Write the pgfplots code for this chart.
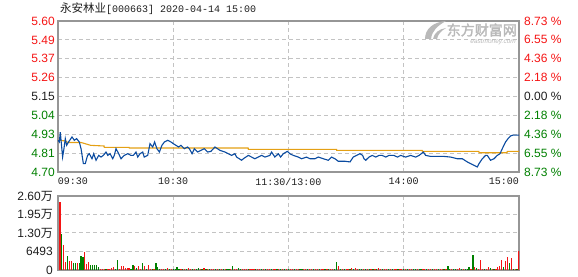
\documentclass[border=0pt]{standalone}
\usepackage{pgfplots}
\pgfplotsset{compat=1.18}
\usepackage{fontspec}
\setmainfont{Liberation Sans}
\newfontfamily\cjk{Noto Sans CJK SC}
\newfontfamily\cjkbold{Noto Sans CJK SC}[FakeBold=2]
\newfontfamily\mono{Liberation Mono}
\definecolor{pr}{RGB}{245,20,20}
\definecolor{pg}{RGB}{0,128,0}
\definecolor{framec}{RGB}{150,150,150}
\definecolor{gridc}{RGB}{195,195,195}
\definecolor{priceblue}{RGB}{10,75,160}
\definecolor{avgor}{RGB}{228,160,20}
\definecolor{wm}{RGB}{185,185,185}
\definecolor{txt}{RGB}{30,30,30}
\tikzset{gl/.style={draw=gridc, dash pattern=on 4pt off 3pt, line width=1pt}}
\begin{document}
\begin{tikzpicture}
\path[use as bounding box] (0pt,0pt) rectangle (578pt,276pt);
\foreach \yy in {122.5,141.5,160.5,179.5,198.5,217.5,236.5,24.5,43.5,61.5} {
  \draw[gl] (58pt,\yy pt) -- (519pt,\yy pt);
}
\pgfplotsset{
  panel/.style={scale only axis, width=461pt, xmin=0, xmax=240,
    axis line style={draw=framec, line width=1.2pt},
    major tick length=0pt,
    xmajorgrids=true,
    major grid style={gl},
    tick label style={font=\fontsize{12}{14}\selectfont, inner sep=0pt},
    xtick={0,60,120,180,240},
  }
}
% main price panel
\begin{axis}[panel, at={(58pt,104pt)}, anchor=south west, height=151pt,
  ymin=4.70, ymax=5.60,
  ytick={4.70,4.8125,4.925,5.0375,5.15,5.2625,5.375,5.4875,5.60},
  yticklabels={\textcolor{pg}{4.70},\textcolor{pg}{4.81},\textcolor{pg}{4.93},\textcolor{pg}{5.04},\textcolor{txt}{5.15},\textcolor{pr}{5.26},\textcolor{pr}{5.37},\textcolor{pr}{5.49},\textcolor{pr}{5.60}},
  yticklabel style={xshift=-3pt},
  xticklabels={\makebox[0pt][l]{09:30},10:30,11:30/13:00,14:00,\makebox[0pt][r]{15:00}},
  xticklabel style={font=\mono\fontsize{10}{12}\selectfont, yshift=-6pt, text=txt},
]
\addplot[avgor, line width=1.1pt] coordinates {
(0,4.889)(4,4.885)(5,4.876)(12,4.876)(17,4.859)(24,4.855)(24.1,4.847)(37,4.847)(37.1,4.843)(99,4.843)(99.1,4.835)(145,4.835)(145.1,4.829)(189.6,4.829)(189.7,4.823)(219.1,4.823)(219.2,4.815)(233.8,4.815)(233.9,4.823)(240,4.823)
};
\addplot[priceblue, line width=1.1pt] coordinates {
(0,4.889)(0.7,4.879)(1.2,4.938)(2.4,4.789)(3.1,4.839)(3.8,4.899)(4.5,4.859)(5.5,4.879)(7.3,4.909)(8.5,4.889)(9.7,4.899)(11.1,4.879)(12,4.839)(13.2,4.750)(14.2,4.750)(15.4,4.799)(16.3,4.809)(17.7,4.779)(18.6,4.809)(19.8,4.770)(21.2,4.799)(22.4,4.789)(23.6,4.799)(25,4.819)(25.9,4.799)(27.1,4.809)(28.5,4.779)(29.3,4.799)(30.2,4.839)(31.6,4.809)(32.8,4.779)(34.5,4.799)(36.3,4.809)(38,4.799)(39.2,4.799)(40.6,4.819)(41.5,4.789)(42.7,4.809)(44.1,4.819)(44.9,4.789)(46.7,4.799)(47.9,4.869)(49.3,4.849)(50.3,4.879)(51.5,4.839)(52.8,4.819)(54.1,4.859)(55.4,4.879)(57.1,4.889)(58.8,4.879)(60,4.869)(61.4,4.859)(62.8,4.849)(64,4.859)(65.8,4.839)(67.5,4.849)(68.4,4.839)(69.8,4.809)(71,4.839)(72.7,4.819)(74.4,4.829)(76.2,4.839)(77.9,4.819)(79.6,4.823)
(81.7,4.849)(84.3,4.829)(86.9,4.819)(88.6,4.809)(90.4,4.799)(92.1,4.809)(93,4.789)(95.6,4.770)(96.5,4.779)(99.1,4.799)(102.5,4.779)(106,4.799)(107.7,4.789)(110.3,4.799)(111.2,4.819)(112.9,4.789)(114.7,4.809)(115.9,4.789)(117.3,4.809)(119.4,4.823)(120.7,4.809)(122.5,4.799)(125.1,4.789)(126.8,4.779)(129.4,4.789)(131.2,4.779)(133.8,4.779)(135.5,4.789)(138.1,4.779)(140.7,4.770)(142.4,4.789)(144.2,4.779)(145.9,4.764)(149.4,4.764)(152,4.760)(153.7,4.789)(155.4,4.799)(157.2,4.809)(158.6,4.799)
(159.3,4.779)(160.2,4.770)(161.9,4.789)(163.6,4.799)(165.4,4.789)(167.1,4.799)(168.8,4.799)(170.6,4.789)(172.3,4.799)(174.9,4.799)(176.7,4.789)(178.4,4.799)(181,4.789)(183.6,4.799)(186.2,4.789)(188,4.799)(190.2,4.819)(191.4,4.799)(194,4.793)(200.9,4.793)(204.4,4.789)(207.9,4.779)(210.5,4.779)(213.1,4.760)(214.8,4.750)(218.3,4.730)(219.2,4.750)(220.9,4.779)(222.6,4.799)(223.5,4.799)(225.2,4.770)(227,4.779)(228.7,4.799)(230.1,4.809)(231.3,4.839)(233,4.879)(234.3,4.899)(235.6,4.915)(237,4.920)(240,4.920)
};
\end{axis}
% right percentage labels
\begin{axis}[scale only axis, width=461pt, height=151pt, at={(58pt,104pt)}, anchor=south west,
  xmin=0, xmax=240, ymin=-8.73, ymax=8.73,
  axis x line=none, axis y line*=right, y axis line style={draw=none},
  major tick length=0pt,
  ytick={-8.73,-6.5475,-4.365,-2.1825,0,2.1825,4.365,6.5475,8.73},
  yticklabels={\textcolor{pg}{8.73 \%},\textcolor{pg}{6.55 \%},\textcolor{pg}{4.36 \%},\textcolor{pg}{2.18 \%},\textcolor{txt}{0.00 \%},\textcolor{pr}{2.18 \%},\textcolor{pr}{4.36 \%},\textcolor{pr}{6.55 \%},\textcolor{pr}{8.73 \%}},
  yticklabel style={font=\fontsize{12}{14}\selectfont, inner sep=0pt, anchor=west, xshift=5pt},
]
\end{axis}
% volume panel
\begin{axis}[panel, at={(58pt,6pt)}, anchor=south west, height=74pt,
  ymin=0, ymax=25972, scaled y ticks=false,
  ytick={0,6493,12986,19479,25972},
  yticklabels={0,6493,1.30{\cjk 万},1.95{\cjk 万},2.60{\cjk 万}},
  yticklabel style={xshift=-5pt, text=txt},
  xticklabels={},
]
\addplot[ycomb, pr, line width=1.2pt, mark=none] coordinates {
(1,23870)(3,8660)(4,2810)(6,3160)(7,3160)(10,2340)(14,6320)(15,2000)(16,2810)(22,351)(28,819)(29,1170)(33,1400)(34,1400)(35,585)(36,819)(37,585)(40,1400)(42,1400)(45,1400)(47,1755)(57,819)(68,702)(76,819)(146,1404)(153,702)(155,702)(167,702)(209,702)(217,1170)(220,3510)(224,936)(229,1170)(230,1521)(231,3510)(233,3276)(234,4446)(236,4212)(240,6669)
(23,450)(24,450)(26,450)(27,450)(32,450)(43,450)(48,450)(50,450)(54,450)(55,450)(59,450)(64,450)(66,450)(69,450)(71,450)(74,450)(78,450)(80,450)(81,450)(83,450)(85,450)(87,450)(90,450)(92,450)(93,450)(96,450)(97,450)(98,450)(100,450)(101,450)(102,450)(104,450)(105,450)(107,450)(109,450)(110,450)(112,450)(113,450)(115,450)(117,450)(119,450)(121,450)(122,450)(124,450)(125,450)(128,450)(129,450)(131,450)(132,450)(134,450)(135,450)(137,450)(138,450)(140,450)(142,450)(143,450)(148,450)(150,450)(151,450)(156,450)(159,450)(161,450)(163,450)(165,450)(168,450)(170,450)(171,450)(173,450)(175,450)(176,450)(178,450)(179,450)(181,450)(183,450)(184,450)(187,450)(190,450)(191,450)(193,450)(194,450)(196,450)(197,450)(199,450)(200,450)(202,450)(205,450)(208,450)(211,450)(215,450)(219,450)(221,450)(223,450)(226,450)(228,450)(238,450)
};
\addplot[ycomb, pg, line width=1.2pt, mark=none] coordinates {
(2,12520)(5,4914)(8,2340)(9,2340)(11,2340)(12,4914)(13,4560)(17,1755)(18,1755)(19,1755)(20,1755)(21,1053)(31,3510)(39,1755)(41,585)(44,2574)(51,2457)(52,1170)(62,1053)(73,702)(91,1404)(94,702)(145,2808)(203,1404)(214,936)(216,5265)(218,702)(225,702)(232,936)(235,2574)(237,351)
(25,450)(30,450)(38,450)(46,450)(49,450)(53,450)(56,450)(58,450)(60,450)(61,450)(63,450)(65,450)(67,450)(70,450)(72,450)(75,450)(77,450)(79,450)(82,450)(84,450)(86,450)(88,450)(89,450)(95,450)(99,450)(103,450)(106,450)(108,450)(111,450)(114,450)(116,450)(118,450)(120,450)(123,450)(126,450)(127,450)(130,450)(133,450)(136,450)(139,450)(141,450)(144,450)(147,450)(149,450)(152,450)(154,450)(157,450)(158,450)(160,450)(162,450)(164,450)(166,450)(169,450)(172,450)(174,450)(177,450)(180,450)(182,450)(185,450)(186,450)(188,450)(189,450)(192,450)(195,450)(198,450)(201,450)(204,450)(206,450)(207,450)(210,450)(212,450)(213,450)(222,450)(227,450)(239,450)
};
\end{axis}
% title
\node[anchor=west, inner sep=0pt, text=txt] at (60pt,267.3pt) {{\cjk\fontsize{11.5}{13}\selectfont 永安林业}{\mono\fontsize{10}{12}\selectfont [000663] 2020-04-14 15:00}};
% watermark
\fill[wm] (425pt,237pt) .. controls (425pt,247pt) and (433pt,254pt) .. (446pt,255pt) .. controls (437pt,250pt) and (432pt,245pt) .. (431pt,237pt) -- cycle;
\fill[wm] (433pt,237pt) .. controls (434pt,243pt) and (439pt,247pt) .. (446pt,248pt) .. controls (441pt,245pt) and (438pt,242pt) .. (437pt,237pt) -- cycle;
\node[anchor=east, inner sep=0pt, text=wm] at (517pt,246pt) {\cjkbold\fontsize{14}{16}\selectfont 东方财富网};
\node[anchor=east, inner sep=0pt, text=wm] at (516pt,233.5pt) {\fontsize{6.5}{7}\selectfont\itshape eastmoney.com};
\end{tikzpicture}
\end{document}
